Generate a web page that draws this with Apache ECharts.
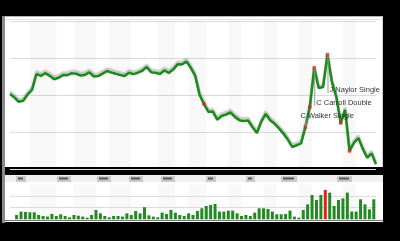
<!DOCTYPE html>
<html><head><meta charset="utf-8">
<script src="https://cdn.jsdelivr.net/npm/echarts@6/dist/echarts.min.js"></script>
<style>html,body{margin:0;padding:0;background:#000;}#c{width:400px;height:241px;}</style>
</head><body><div id="c"></div>
<script>
// Win probability after each play (percent)
const winProb = [50.7,48.3,45.4,46.1,50.4,53.5,64.2,62.9,64.7,63.0,60.6,61.6,63.4,63.4,64.7,64.3,63.2,63.6,65.3,62.5,
62.8,64.5,66.2,65.2,64.3,63.5,62.9,65.0,64.1,65.1,66.4,68.9,65.4,65.0,64.2,66.6,64.9,67.2,70.7,70.7,
72.6,68.4,62.9,50.0,43.9,38.6,38.8,33.3,35.8,36.8,38.2,35.2,33.0,32.4,32.8,28.2,24.3,32.0,37.2,33.0,
30.5,27.4,23.9,19.9,14.9,16.1,17.3,28.4,41.9,68.2,54.7,55.4,77.0,58.8,48.6,31.1,39.9,12.2,17.6,20.9,
13.6,7.6,10.5,3.2];
// Scoring plays (indices into winProb)
const scoringPlays = [44,67,68,69,72,75,77];
// Swing (leverage) per play, plays 1..82
const swing = [3.7,6.6,6.3,6.0,6.0,3.7,2.8,2.3,4.6,2.8,4.3,2.8,1.7,3.7,3.1,2.3,1.4,3.7,8.0,5.1,
2.8,1.7,2.8,2.8,2.3,5.1,3.7,7.1,5.1,10.3,3.4,2.3,1.7,5.7,4.6,8.0,5.7,3.7,2.8,5.1,
3.7,7.1,9.4,11.4,12.3,13.1,6.6,6.6,7.4,7.4,5.1,2.8,3.7,2.8,5.7,9.4,9.4,8.8,6.6,4.3,
4.3,4.6,7.4,2.3,1.4,8.0,12.8,20.8,16.5,20.8,25.1,22.8,11.4,16.5,17.9,22.8,6.6,6.6,17.1,12.8,
8.5,17.1];
const biggestPlay = 71; // play number of the red bar
// Inning shading (in play index units)
const bandStart = [4.5,14.5,22.5,33.5,40.5,49.5,57.5,65.5,75.5];
const bandEnd   = [10.5,19.5,27.5,37.5,44.5,52.5,60.5,68.5,78.5];
// Annotations
const annIdx  = [67,69,72];
const annText = ['C Walker Single','C Carroll Double','J Naylor Single'];

const GREEN = '#1d8a1d', RED = '#e3201b';
const chart = echarts.init(document.getElementById('c'), null, {renderer:'canvas', width:400, height:241});

const lineBands = bandStart.map((s,i)=>[{xAxis:s},{xAxis:bandEnd[i]}]);
const barBands = bandStart.map((s,i)=>[{xAxis:s-0.5},{xAxis:bandEnd[i]-0.5}]);
const annOffsets = [[-6,-11],[1,35],[1,35]]; // label placement (px) relative to point

// small inning tabs along the top of the lower panel (decoration)
const tabX = [16,57,97,129,161,206,246,281,337];
const tabW = [10,14,14,14,14,10,9,16,15];
const tabs = [];
tabX.forEach((x,i)=>{
  tabs.push({type:'rect',z:-8,shape:{x:x,y:176,width:tabW[i],height:6},style:{fill:'#c9c9c9'}});
  tabs.push({type:'rect',z:-7,shape:{x:x+2,y:177.5,width:tabW[i]-5,height:2},style:{fill:'#555'}});
});

chart.setOption({
  backgroundColor:'#000',
  animation:false,
  graphic:[
    {type:'rect', z:-10, shape:{x:5,y:16,width:378,height:151}, style:{fill:'#fff'}},
    {type:'rect', z:-10, shape:{x:5,y:175,width:378,height:47}, style:{fill:'#fff'}},
    {type:'rect', z:-9, shape:{x:2,y:16,width:3,height:207}, style:{fill:'#8a8a8a'}},
    {type:'line', z:-9, shape:{x1:5,y1:16.5,x2:383,y2:16.5}, style:{stroke:'#b5b5b5',lineWidth:1}},
    {type:'line', z:-9, shape:{x1:5,y1:19.5,x2:383,y2:19.5}, style:{stroke:'#e2e2e2',lineWidth:1}},
    {type:'rect', z:-9, shape:{x:5,y:175,width:378,height:7}, style:{fill:'#f0f0f0'}},
    {type:'line', z:-9, shape:{x1:5,y1:220.5,x2:383,y2:220.5}, style:{stroke:'#777',lineWidth:1}},
    {type:'line', z:-9, shape:{x1:382.5,y1:16,x2:382.5,y2:167}, style:{stroke:'#cfcfcf',lineWidth:1}}
  ].concat(tabs),
  grid:[
    {left:10,right:24,top:21,height:148},
    {left:10,right:24,top:184.2,bottom:21.7}
  ],
  xAxis:[
    {gridIndex:0,type:'value',min:0,max:winProb.length-1,show:false},
    {gridIndex:1,type:'value',min:-0.5,max:swing.length+0.5,show:false}
  ],
  yAxis:[
    {gridIndex:0,type:'value',min:0,max:100,interval:25,axisLine:{show:false},axisTick:{show:false},axisLabel:{show:false},
     splitLine:{show:true,lineStyle:{color:'#dcdcdc',width:1}}},
    {gridIndex:1,type:'value',min:0,max:30,axisLine:{show:false},axisTick:{show:false},axisLabel:{show:false},splitLine:{show:false}}
  ],
  series:[
    {type:'line',xAxisIndex:0,yAxisIndex:0,data:winProb.map((v,i)=>[i,v]),symbol:'none',z:3,
     lineStyle:{color:GREEN,width:2.6,shadowColor:'rgba(0,0,0,0.2)',shadowOffsetY:-2.5,shadowBlur:1},
     markArea:{silent:true,z:1,itemStyle:{color:'rgba(0,0,0,0.028)'},data:lineBands}},
    {type:'scatter',xAxisIndex:0,yAxisIndex:0,data:scoringPlays.map(i=>[i,winProb[i]]),symbol:'rect',symbolSize:3.5,z:5,
     itemStyle:{color:RED}},
    {type:'custom',xAxisIndex:0,yAxisIndex:0,z:6,data:annIdx.map((i,k)=>[i,winProb[i],k]),
     renderItem:function(params,api){
       const k=api.value(2);
       const p=api.coord([api.value(0),api.value(1)]);
       const o=annOffsets[k];
       const x=p[0], y0=p[1], y1=p[1]+o[1];
       return {type:'group',children:[
         {type:'line',shape:{x1:x+0.5,y1:y0,x2:x+0.5,y2:y1+3},style:{stroke:'#999',lineWidth:1}},
         {type:'text',style:{x:x+o[0]+1,y:y1,text:annText[k],fill:'#333',font:'7.5px "Liberation Sans", Arial, sans-serif',
           textVerticalAlign:'middle',textAlign:'left'}}
       ]};
     }},
    {type:'line',xAxisIndex:1,yAxisIndex:1,data:[],z:1,symbol:'none',
     markLine:{silent:true,z:1,symbol:'none',label:{show:false},lineStyle:{color:'#dcdcdc',width:1,type:'solid'},data:[{yAxis:10},{yAxis:20}]},
     markArea:{silent:true,z:1,itemStyle:{color:'rgba(0,0,0,0.028)'},data:barBands}},
    {type:'bar',xAxisIndex:1,yAxisIndex:1,data:swing.map((v,i)=>({value:[i+1,v],itemStyle:{color:(i+1)===biggestPlay?RED:'#218a21'}})),
     barWidth:3,z:4}
  ]
});
</script></body></html>
